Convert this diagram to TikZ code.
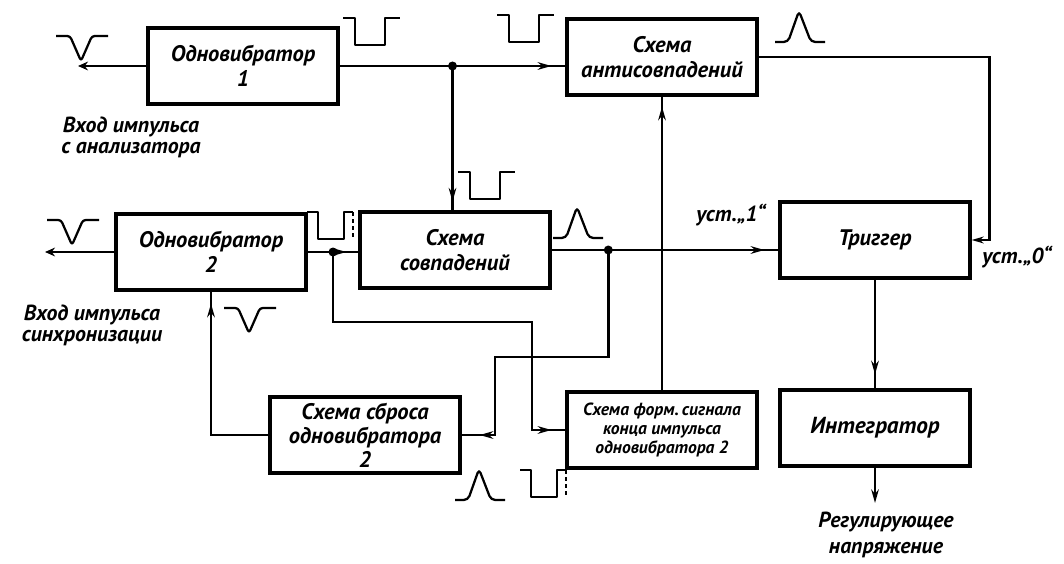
\documentclass[tikz,border=0pt]{standalone}
\usepackage{fontspec}
\setmainfont{PT Sans}
\usetikzlibrary{arrows.meta,decorations.markings,calc}

\tikzset{
    block/.style={draw, line width=2.3pt, minimum width=4.75cm, minimum height=1.9cm,
        align=center, inner sep=2pt, font=\fontsize{16}{18}\selectfont\bfseries\itshape},
    wire/.style={line width=1.9pt},
    arrowat/.style={postaction={decorate}, decoration={markings,
        mark=at position #1 with {\arrow{Stealth[length=3.4mm,width=1.9mm]}}}},
    arrowat/.default=-0.3cm,
    txt/.style={align=center, font=\fontsize{15.5}{15}\selectfont\bfseries\itshape},
    pulse/.style={line width=1.6pt, line join=round},
    vpulse/.pic={\draw[pulse, rounded corners=2pt] (-25,0) -- (-11,0) -- (0,25) -- (11,0) -- (27,0);},
    sqpulse/.pic={\draw[pulse] (0,0) -- (12,0) -- (12,27) -- (42,27) -- (42,0) -- (57,0);},
    sqvar/.pic={\draw[pulse] (0,0) -- (11,0) -- (11,27) -- (37,27) -- (37,0) -- (46,0);
        \draw[pulse, dash pattern=on 3pt off 2pt] (46,0) -- (46,27);},
    peak/.pic={\draw[pulse, rounded corners=3pt] (0,0) -- (13,0) -- (24,-31) -- (36,0) -- (50,0);},
}

\begin{document}
\begin{tikzpicture}[x=0.025cm, y=-0.025cm]
    \useasboundingbox (0,0) rectangle (1064,564);

    % blocks
    \node[block] (ov1) at (243,66) {Одновибратор\\1};
    \node[block] (anti) at (662,57) {Схема\\антисовпадений};
    \node[block] (ov2) at (211,252) {Одновибратор\\2};
    \node[block] (sovp) at (455,250) {Схема\\совпадений};
    \node[block] (trig) at (875,240) {Триггер};
    \node[block, font=\fontsize{16}{17}\selectfont\bfseries\itshape] (reset) at (365,435) {Схема сброса\\одновибратора\\2};
    \node[block, font=\fontsize{12.5}{13.5}\selectfont\bfseries\itshape] (form) at (662,430) {Схема форм.\,сигнала\\конца импульса\\одновибратора 2};
    \node[block, font=\fontsize{16.5}{18}\selectfont\bfseries\itshape] (integ) at (875,428) {Интегратор};

    % inputs and outputs
    \coordinate (in1) at (78,66);
    \coordinate (in2) at (45,252);
    \coordinate (out) at (875,503);
    \node[txt] (inlbl1) at (131,137) {Вход импульса\\с анализатора};
    \node[txt] (inlbl2) at (92,325) {Вход импульса\\синхронизации};
    \node[txt] (set1) at (731,215) {уст.„1“};
    \node[txt] (set0) at (1017,257) {уст.„0“};
    \node[txt, font=\fontsize{15.5}{18}\selectfont\bfseries\itshape] (outlbl) at (886,535) {Регулирующее\\напряжение};

    \draw[wire, -{Stealth[length=2.5mm,width=2.2mm]}] (ov1.west) -- (in1);
    \draw[wire, -{Stealth[length=2.5mm,width=2.2mm]}] (ov2.west) -- (in2);

    % branch points
    \coordinate (j1) at ($(ov1.east)!0.5!(anti.west |- ov1.east)$);
    \coordinate (j2) at ($(ov2.east)!0.5!(sovp.west |- ov2.east)$);
    \coordinate (j3) at ($(sovp.east)!0.25!(trig.west |- sovp.east)$);

    % connections
    \draw[wire, arrowat=-0.35cm] (ov1.east) -- (anti.west |- ov1.east);
    \draw[wire, arrowat=-0.22cm] (j1) -- (j1 |- sovp.north);
    \draw[wire, arrowat=-0.3cm] (ov2.east) -- (sovp.west |- ov2.east);
    \draw[wire, arrowat=-0.35cm] (j2) |- (532,322) |- (form.west);
    \draw[wire, arrowat=-0.35cm] (sovp.east) -- (trig.west |- sovp.east);
    \draw[wire, arrowat=-0.45cm] (j3) |- (495,357) |- (reset.east);
    \draw[wire, arrowat=-0.3cm] (reset.west) -| (ov2.south);
    \draw[wire, arrowat=-0.25cm] (form.north -| anti.south) -- (anti.south);
    \draw[wire, -{Stealth[length=3mm,width=1.7mm]}] (anti.east) -| ($(trig.east)+(18,0)$) -- (trig.east);
    \draw[wire, arrowat=-0.35cm] (trig.south) -- (trig.south |- integ.north);
    \draw[wire, -{Stealth[length=3.4mm,width=1.9mm]}] (integ.south) -- (out);

    \foreach \j in {j1,j2,j3}
        \fill (\j) circle (3.2pt);

    % pulse shapes
    \pic at (81,36) {vpulse};
    \pic at (72,220) {vpulse};
    \pic at (249,308) {vpulse};
    \pic at (343,18) {sqpulse};
    \pic at (497,15) {sqpulse};
    \pic at (458,172) {sqpulse};
    \pic at (307,212) {sqvar};
    \pic at (520,470) {sqvar};
    \pic at (775,42) {peak};
    \pic at (553,238) {peak};
    \pic at (455,500) {peak};
\end{tikzpicture}
\end{document}
